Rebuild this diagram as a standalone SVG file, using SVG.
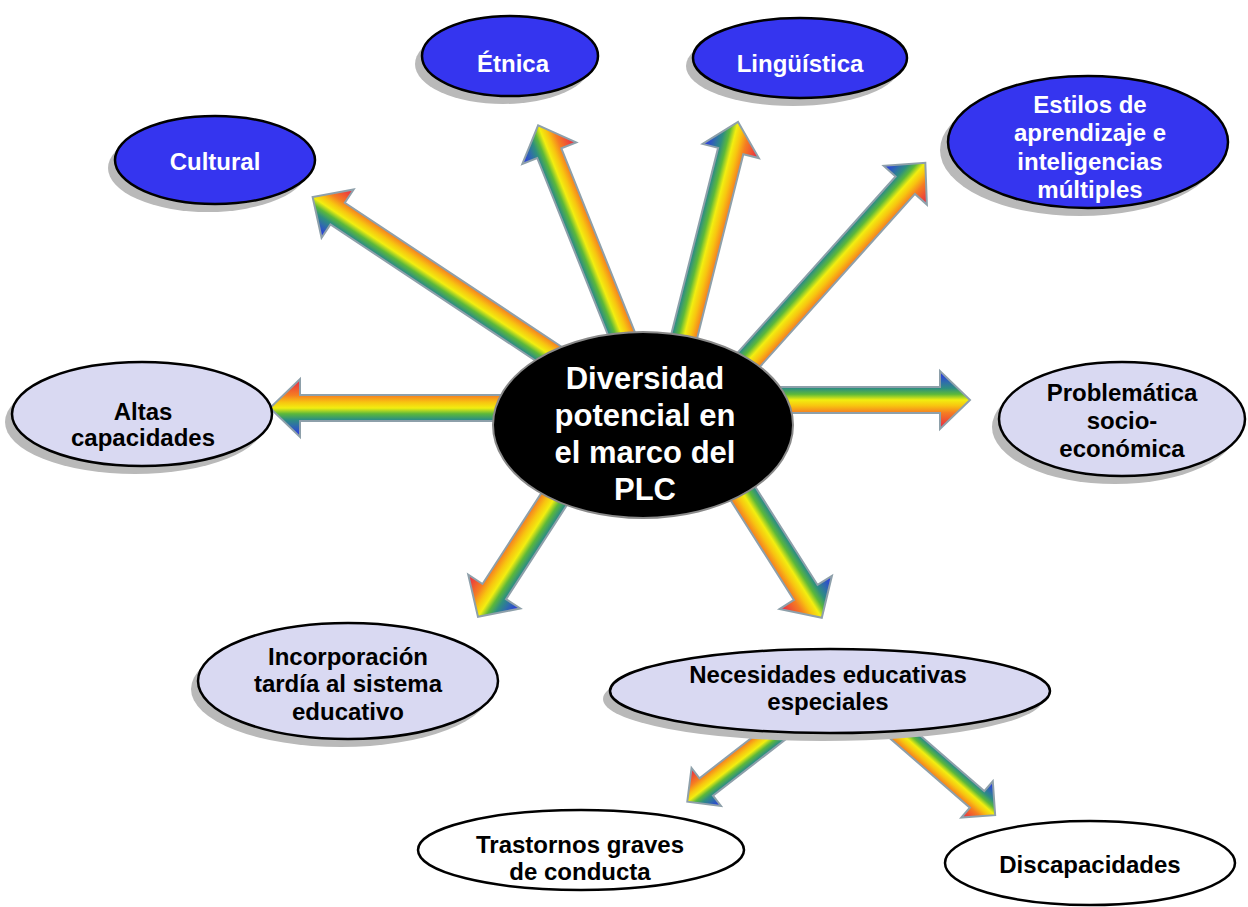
<svg xmlns="http://www.w3.org/2000/svg" width="1248" height="907" viewBox="0 0 1248 907">
<defs>
<linearGradient id="rb" x1="0" y1="0" x2="0" y2="1">
<stop offset="0" stop-color="#2a2cf0"/>
<stop offset="0.2" stop-color="#2f6fa8"/>
<stop offset="0.3" stop-color="#2e8f80"/>
<stop offset="0.4" stop-color="#5cb83a"/>
<stop offset="0.5" stop-color="#f2ee10"/>
<stop offset="0.6" stop-color="#f8c410"/>
<stop offset="0.72" stop-color="#f57d22"/>
<stop offset="1" stop-color="#e8204a"/>
</linearGradient>
</defs>
<style>
.arr{fill:url(#rb);stroke:#8ea0aa;stroke-width:2;stroke-linejoin:miter}
.sh{fill:#b9b9b9}
.blue{fill:#3535ef;stroke:#000;stroke-width:2.5}
.lav{fill:#d9d9f2;stroke:#000;stroke-width:2.5}
.wht{fill:#fff;stroke:#000;stroke-width:2.5}
.ctr{fill:#000;stroke:#8a8a8a;stroke-width:2}
text{font-family:"Liberation Sans",Arial,sans-serif;font-weight:bold;text-anchor:middle}
.tw{fill:#fff;font-size:24px}
.tb{fill:#000;font-size:24px}
.tc{fill:#fff;font-size:31px}
</style>
<rect width="1248" height="907" fill="#fff"/>

<g id="connectors">
<path class="arr" transform="translate(512,408) rotate(180)" d="M0,-13 L212,-13 L212,-29 L242,0 L212,29 L212,13 L0,13 Z"/>
<path class="arr" transform="translate(775,400) rotate(0)" d="M0,-13 L165,-13 L165,-29 L195,0 L165,29 L165,13 L0,13 Z"/>
<path class="arr" transform="translate(570,368) rotate(213.6)" d="M0,-13 L279,-13 L279,-29 L309,0 L279,29 L279,13 L0,13 Z"/>
<path class="arr" transform="translate(628,350) rotate(248.2)" d="M0,-13 L212,-13 L212,-29 L242,0 L212,29 L212,13 L0,13 Z"/>
<path class="arr" transform="translate(682,345) rotate(-75.9)" d="M0,-13 L200,-13 L200,-29 L230,0 L200,29 L200,13 L0,13 Z"/>
<path class="arr" transform="translate(735,375) rotate(-48.1)" d="M0,-13 L255,-13 L255,-29 L285,0 L255,29 L255,13 L0,13 Z"/>
<path class="arr" transform="translate(560,490) rotate(122.9)" d="M0,-14 L121,-14 L121,-31 L151,0 L121,31 L121,14 L0,14 Z"/>
<path class="arr" transform="translate(735,481) rotate(57.6)" d="M0,-14 L132,-14 L132,-31 L162,0 L132,31 L132,14 L0,14 Z"/>
<path class="arr" transform="translate(790,722) rotate(142.2)" d="M0,-11 L106,-11 L106,-24 L130,0 L106,24 L106,11 L0,11 Z"/>
<path class="arr" transform="translate(888,722) rotate(41)" d="M0,-11 L118,-11 L118,-24 L142,0 L118,24 L118,11 L0,11 Z"/>
</g>

<g id="n-center">
<ellipse class="ctr" cx="643" cy="425" rx="150" ry="93"/>
<text class="tc" x="645" y="389">Diversidad</text>
<text class="tc" x="645" y="426">potencial en</text>
<text class="tc" x="645" y="463">el marco del</text>
<text class="tc" x="645" y="500">PLC</text>
</g>

<g id="n-cultural">
<ellipse class="sh" cx="208" cy="168" rx="100" ry="44"/>
<ellipse class="blue" cx="215" cy="160" rx="100" ry="44"/>
<text class="tw" x="215" y="170">Cultural</text>
</g>

<g id="n-etnica">
<ellipse class="sh" cx="503" cy="64" rx="88" ry="40"/>
<ellipse class="blue" cx="510" cy="56" rx="88" ry="40"/>
<text class="tw" x="513" y="72">Étnica</text>
</g>

<g id="n-linguistica">
<ellipse class="sh" cx="793" cy="66" rx="107" ry="40"/>
<ellipse class="blue" cx="800" cy="58" rx="107" ry="40"/>
<text class="tw" x="800" y="72">Lingüística</text>
</g>

<g id="n-estilos">
<ellipse class="sh" cx="1080" cy="150" rx="140" ry="66"/>
<ellipse class="blue" cx="1088" cy="142" rx="140" ry="66"/>
<text class="tw" x="1090" y="113">Estilos de</text>
<text class="tw" x="1090" y="141">aprendizaje e</text>
<text class="tw" x="1090" y="170">inteligencias</text>
<text class="tw" x="1090" y="198">múltiples</text>
</g>

<g id="n-altas">
<ellipse class="sh" cx="135" cy="422" rx="130" ry="52"/>
<ellipse class="lav" cx="142" cy="414" rx="130" ry="52"/>
<text class="tb" x="143" y="420">Altas</text>
<text class="tb" x="143" y="446">capacidades</text>
</g>

<g id="n-problematica">
<ellipse class="sh" cx="1115" cy="427" rx="123" ry="57"/>
<ellipse class="lav" cx="1122" cy="419" rx="123" ry="57"/>
<text class="tb" x="1122" y="401">Problemática</text>
<text class="tb" x="1122" y="429">socio-</text>
<text class="tb" x="1122" y="457">económica</text>
</g>

<g id="n-incorporacion">
<ellipse class="sh" cx="341" cy="689" rx="150" ry="58"/>
<ellipse class="lav" cx="348" cy="681" rx="150" ry="58"/>
<text class="tb" x="348" y="665">Incorporación</text>
<text class="tb" x="348" y="692">tardía al sistema</text>
<text class="tb" x="348" y="720">educativo</text>
</g>

<g id="n-nee">
<ellipse class="sh" cx="823" cy="699" rx="220" ry="42"/>
<ellipse class="lav" cx="830" cy="691" rx="220" ry="42"/>
<text class="tb" x="828" y="683">Necesidades educativas</text>
<text class="tb" x="828" y="710">especiales</text>
</g>

<g id="n-trastornos">
<ellipse class="wht" cx="581" cy="850" rx="163" ry="40"/>
<text class="tb" x="580" y="853">Trastornos graves</text>
<text class="tb" x="580" y="880">de conducta</text>
</g>

<g id="n-discapacidades">
<ellipse class="wht" cx="1090" cy="863" rx="145" ry="42"/>
<text class="tb" x="1090" y="873">Discapacidades</text>
</g>
</svg>
